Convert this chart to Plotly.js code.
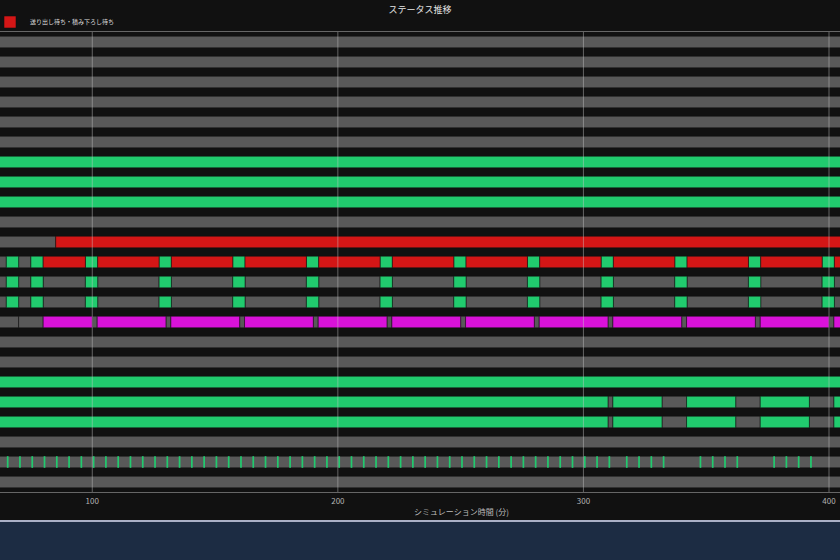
<!DOCTYPE html>
<html>
<head>
<meta charset="utf-8">
<script src="https://cdn.plot.ly/plotly-3.0.1.min.js"></script>
<style>
  html, body { margin: 0; padding: 0; background: #111111; overflow: hidden; width: 840px; height: 560px; }
  #chart { position: absolute; left: -160px; top: 0; width: 1160px; height: 600px; }
</style>
</head>
<body>
<div id="chart"></div>
<script>
// ---- data ----
const categories = [
  '工程01','工程02','工程03','工程04','工程05','工程06','工程07','工程08',
  '工程09','工程10','工程11','工程12','工程13','工程14','工程15','工程16',
  '工程17','工程18','工程19','工程20','工程21','工程22','工程23'
];
const statusNames = ['待機中', '稼働中', '段取り待ち', '送り出し待ち・積み下ろし待ち'];
const statusColors = ['#595959', '#21cb6e', '#d912d9', '#d41616'];
// only the last legend entry is inside the visible frame
const statusInLegend = [false, false, false, true];

// [row index, start (分), end (分)]
const idleSegments = [
  [0,0,480],[1,0,480],[2,0,480],[3,0,480],[4,0,480],[5,0,480],
  [9,0,480],
  [10,0,85.1],
  [11,0,65],[11,70,75],
  [12,0,65],[12,70,75],[12,80,97.2],[12,102.2,127.2],[12,132.2,157.2],[12,162.2,187.2],[12,192.2,217.2],
  [12,222.2,247.2],[12,252.2,277.2],[12,282.2,307.2],[12,312.2,337.2],[12,342.2,367.2],[12,372.2,397.2],[12,402.2,480],
  [13,0,65],[13,70,75],[13,80,97.2],[13,102.2,127.2],[13,132.2,157.2],[13,162.2,187.2],[13,192.2,217.2],
  [13,222.2,247.2],[13,252.2,277.2],[13,282.2,307.2],[13,312.2,337.2],[13,342.2,367.2],[13,372.2,397.2],[13,402.2,480],
  [14,0,70],[14,70,80],[14,100,102],[14,130,132],[14,160,162],[14,190,192],[14,220,222],
  [14,250,252],[14,280,282],[14,310,312],[14,340,342],[14,370,372],[14,400,402],
  [15,0,480],[16,0,480],
  [18,310,312],[18,332,342],[18,362,372],[18,392,402],
  [19,310,312],[19,332,342],[19,362,372],[19,392,402],
  [20,0,480],[21,0,480],[22,0,480]
];
const runSegments = [
  [6,0,480],[7,0,480],[8,0,480],[17,0,480],
  [11,65,70],[11,75,80],[11,97.2,102.2],[11,127.2,132.2],[11,157.2,162.2],[11,187.2,192.2],[11,217.2,222.2],
  [11,247.2,252.2],[11,277.2,282.2],[11,307.2,312.2],[11,337.2,342.2],[11,367.2,372.2],[11,397.2,402.2],
  [12,65,70],[12,75,80],[12,97.2,102.2],[12,127.2,132.2],[12,157.2,162.2],[12,187.2,192.2],[12,217.2,222.2],
  [12,247.2,252.2],[12,277.2,282.2],[12,307.2,312.2],[12,337.2,342.2],[12,367.2,372.2],[12,397.2,402.2],
  [13,65,70],[13,75,80],[13,97.2,102.2],[13,127.2,132.2],[13,157.2,162.2],[13,187.2,192.2],[13,217.2,222.2],
  [13,247.2,252.2],[13,277.2,282.2],[13,307.2,312.2],[13,337.2,342.2],[13,367.2,372.2],[13,397.2,402.2],
  [18,0,310],[18,312,332],[18,342,362],[18,372,392],[18,402,480],
  [19,0,310],[19,312,332],[19,342,362],[19,372,392],[19,402,480]
];
const setupSegments = [
  [14,80,100],[14,102,130],[14,132,160],[14,162,190],[14,192,220],[14,222,250],
  [14,252,280],[14,282,310],[14,312,340],[14,342,370],[14,372,400],[14,402,480]
];
const blockedSegments = [
  [10,85.1,480],
  [11,80,97.2],[11,102.2,127.2],[11,132.2,157.2],[11,162.2,187.2],[11,192.2,217.2],[11,222.2,247.2],
  [11,252.2,277.2],[11,282.2,307.2],[11,312.2,337.2],[11,342.2,367.2],[11,372.2,397.2],[11,402.2,480]
];
// short 稼働 pulses on row 21
const pulseRow = 21;
const pulseStarts = [
  65.2,70.2,75.2,80.2,85.2,90.2,95.2,100.2,105.2,110.2,115.2,120.2,125.2,130.2,135.2,140.2,
  145.2,150.2,155.2,160.2,165.2,170.2,175.2,180.2,185.2,190.2,195.2,200.2,205.2,210.2,215.2,
  220.2,225.2,230.2,235.2,240.2,245.2,250.2,255.2,260.2,265.2,270.2,275.2,280.2,285.2,290.2,
  295.2,300.2,305.2,310.2,
  317.3,322.3,327.3,332.3,347.3,352.3,357.3,362.3,377.3,382.3,387.3,392.3
];
const pulseEnds = [
  65.9,70.9,75.9,80.9,85.9,90.9,95.9,100.9,105.9,110.9,115.9,120.9,125.9,130.9,135.9,140.9,
  145.9,150.9,155.9,160.9,165.9,170.9,175.9,180.9,185.9,190.9,195.9,200.9,205.9,210.9,215.9,
  220.9,225.9,230.9,235.9,240.9,245.9,250.9,255.9,260.9,265.9,270.9,275.9,280.9,285.9,290.9,
  295.9,300.9,305.9,310.9,
  318.0,323.0,328.0,333.0,348.0,353.0,358.0,363.0,378.0,383.0,388.0,393.0
];
const xTicks = [100, 200, 300, 400];
const xRange = [58.35, 437.87];
const xTitle = 'シミュレーション時間 (分)';

// ---- build ----
const font = '"Noto Sans CJK JP", "Noto Sans", sans-serif';
function segTrace(segs, idx, extra) {
  return Object.assign({
    type: 'bar',
    orientation: 'h',
    name: statusNames[idx],
    showlegend: statusInLegend[idx],
    y: segs.map(s => categories[s[0]]),
    base: segs.map(s => s[1]),
    x: segs.map(s => s[2] - s[1]),
    width: 0.58,
    marker: { color: statusColors[idx], line: { color: 'rgba(17,17,17,0.55)', width: 1 } },
    hoverinfo: 'skip'
  }, extra || {});
}
const traces = [
  segTrace(idleSegments, 0),
  segTrace(runSegments, 1, { legendgroup: 'run' }),
  {
    type: 'bar', orientation: 'h', name: statusNames[1], legendgroup: 'run', showlegend: false,
    y: pulseStarts.map(() => categories[pulseRow]),
    base: pulseStarts,
    x: pulseStarts.map((s, i) => pulseEnds[i] - s),
    width: 0.58,
    marker: { color: statusColors[1], line: { width: 0 } },
    hoverinfo: 'skip'
  },
  segTrace(setupSegments, 2),
  segTrace(blockedSegments, 3)
];

const H = 600, W = 1160;
const layout = {
  width: W, height: H,
  paper_bgcolor: '#111111',
  plot_bgcolor: '#111111',
  font: { family: font, color: '#cccccc', size: 8 },
  margin: { l: 150, r: 78, t: 32, b: 108, autoexpand: false },
  barmode: 'overlay',
  title: {
    text: 'ステータス推移', x: 0.5, xref: 'container', xanchor: 'center',
    y: 1 - 10 / H, yref: 'container', yanchor: 'middle',
    font: { family: font, size: 9, color: '#e6e6e6' }
  },
  showlegend: true,
  legend: {
    orientation: 'h', xref: 'container', yref: 'container',
    x: 280 / W, xanchor: 'right', y: 1 - 22 / H, yanchor: 'middle',
    font: { family: font, size: 6, color: '#dddddd' },
    bgcolor: 'rgba(0,0,0,0)', traceorder: 'normal'
  },
  xaxis: {
    range: xRange, type: 'linear',
    tickmode: 'array', tickvals: xTicks, ticktext: xTicks.map(String),
    showgrid: false, zeroline: false,
    showline: true, mirror: true, linecolor: '#666666', linewidth: 1,
    ticks: '', tickfont: { family: font, size: 8, color: '#b4b4b4' },
    ticklabelstandoff: 1,
    rangeslider: {
      visible: true, autorange: false, range: xRange, thickness: 0.1,
      bgcolor: '#243754', bordercolor: '#aab0c6', borderwidth: 2,
      yaxis: { rangemode: 'fixed', range: [60, 61] }
    }
  },
  yaxis: {
    type: 'category', categoryorder: 'array', categoryarray: categories,
    range: [categories.length - 0.5, -0.5],
    showgrid: false, zeroline: false, showline: false, showticklabels: false
  },
  annotations: [{
    text: xTitle, xref: 'paper', yref: 'paper',
    x: (621 - 150) / 932, y: (492 - 511) / 460, xanchor: 'center', yanchor: 'middle',
    showarrow: false, font: { family: font, size: 8, color: '#bbbbbb' }
  }],
  shapes: xTicks.map(v => ({
    type: 'line', xref: 'x', yref: 'paper', x0: v, x1: v, y0: 0, y1: 1,
    layer: 'above', line: { color: 'rgba(200,200,200,0.45)', width: 1 }
  }))
};

Plotly.newPlot('chart', traces, layout, { displayModeBar: false, staticPlot: true });
</script>
</body>
</html>
